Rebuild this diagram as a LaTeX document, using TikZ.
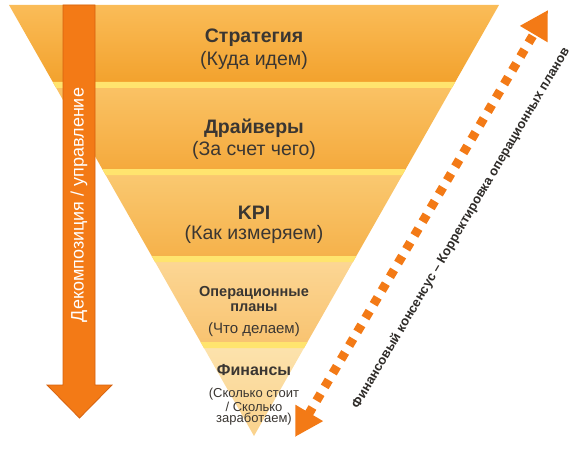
\documentclass[tikz,border=0pt]{standalone}
\usepackage{fontspec}
\setmainfont{Liberation Sans}
\usetikzlibrary{arrows.meta, calc}

\definecolor{arroworange}{RGB}{243,122,22}
\definecolor{arrowedge}{RGB}{214,98,14}
\definecolor{labelgray}{RGB}{58,54,50}
\definecolor{stripyellow}{RGB}{255,228,110}
\definecolor{layer1top}{RGB}{250,188,88}
\definecolor{layer1bot}{RGB}{242,160,42}
\definecolor{layer2top}{RGB}{250,194,100}
\definecolor{layer2bot}{RGB}{244,168,58}
\definecolor{layer3top}{RGB}{250,200,112}
\definecolor{layer3bot}{RGB}{245,176,72}
\definecolor{layer4top}{RGB}{252,214,148}
\definecolor{layer4bot}{RGB}{248,194,110}
\definecolor{layer5top}{RGB}{252,226,172}
\definecolor{layer5bot}{RGB}{250,210,140}

\tikzset{
  layertitle/.style={font=\bfseries\fontsize{19.5}{21}\selectfont, text=labelgray, inner sep=0pt, align=center},
  layerquestion/.style={font=\fontsize{19.5}{21}\selectfont, text=labelgray, inner sep=0pt, align=center},
  consensus arrow/.style={arroworange, line width=9pt, dash pattern=on 8pt off 8pt,
    arrows={Triangle[length=28pt,width=30pt]-Triangle[length=28pt,width=30pt]}},
  consensus label/.style={font=\bfseries\fontsize{13}{15}\selectfont, text=labelgray!80!black, inner sep=0pt}
}

\begin{document}
\begin{tikzpicture}[x=1pt,y=-1pt]
\useasboundingbox (0,0) rectangle (572,449);
% Draw layers of the funnel
\foreach \i/\top/\bot in {1/5/88, 2/88/175, 3/175/262, 4/262/348, 5/348/436}
  \shade[top color=layer\i top, bottom color=layer\i bot]
    ({254-0.5684*(436-\top)},\top) -- ({254+0.5684*(436-\top)},\top)
    -- ({254+0.5684*(436-\bot)},\bot) -- ({254-0.5684*(436-\bot)},\bot) -- cycle;
% Yellow strips between layers
\foreach \bot in {88, 175, 262, 348}
  \fill[stripyellow]
    ({254-0.5684*(442-\bot)},\bot-6) -- ({254+0.5684*(442-\bot)},\bot-6)
    -- ({254+0.5684*(436-\bot)},\bot) -- ({254-0.5684*(436-\bot)},\bot) -- cycle;
% Layer texts
\node[layertitle] (strategy) at (254,38) {Стратегия};
\node[layerquestion] (strategy q) at (254,60) {(Куда идем)};
\node[layertitle] (drivers) at (254,128) {Драйверы};
\node[layerquestion] (drivers q) at (254,150) {(За счет чего)};
\node[layertitle] (kpi) at (254,213) {KPI};
\node[layerquestion] (kpi q) at (254,234) {(Как измеряем)};
\node[layertitle, font=\bfseries\fontsize{14.5}{15}\selectfont] (plans) at (254,299.5) {Операционные\\планы};
\node[layerquestion, font=\fontsize{15}{15}\selectfont] (plans q) at (254,330) {(Что делаем)};
\node[layertitle, font=\bfseries\fontsize{16}{18}\selectfont] (finance) at (254,370) {Финансы};
\node[layerquestion, font=\fontsize{13}{11.8}\selectfont] (finance q) at (254,407) {(Сколько стоит\\/ Сколько\\заработаем)};
% Decomposition arrow
\filldraw[fill=arroworange, draw=arrowedge, line width=0.8pt]
  (63,5) -- (95,5) -- (95,385) -- (112,385) -- (79.5,418) -- (47,385) -- (63,385) -- cycle;
\node[rotate=90, text=white, font=\fontsize{18}{20}\selectfont, inner sep=0pt] (decomposition) at (79,205) {Декомпозиция / управление};
% Consensus arrow
\coordinate (consensus low) at (295,437);
\coordinate (consensus high) at (548,10);
\draw[consensus arrow] (consensus low) -- (consensus high);
\node[consensus label, rotate=59.5] (consensus) at (461,228) {Финансовый консенсус – Корректировка операционных планов};
\end{tikzpicture}
\end{document}
